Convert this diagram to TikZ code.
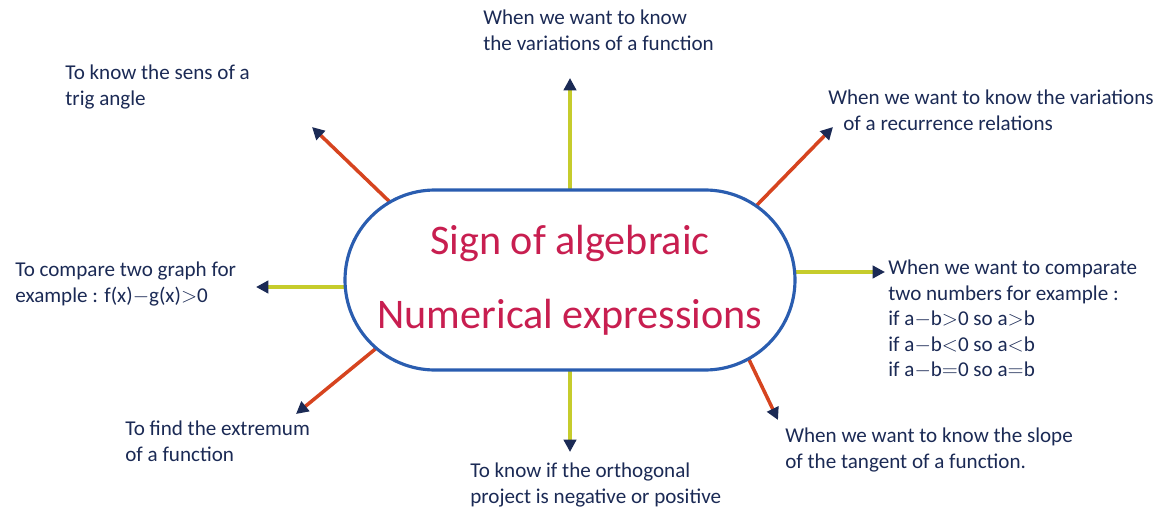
\documentclass[tikz,border=0pt]{standalone}
\usepackage{tikz}
\usetikzlibrary{arrows.meta,positioning,calc,backgrounds}
\usepackage{fontspec}
\setmainfont{Carlito}
\usepackage{xcolor}
\definecolor{inknavy}{HTML}{1B2A55}
\definecolor{blueline}{HTML}{2A5DB0}
\definecolor{titlered}{HTML}{C81E50}
\definecolor{lineyellow}{HTML}{C6CC2C}
\definecolor{linered}{HTML}{D6441F}

\begin{document}
\begin{tikzpicture}[
  note/.style={inner sep=0pt, align=left, anchor=north west, text=inknavy, font=\fontsize{12}{14.5}\selectfont},
  yarr/.style={draw=lineyellow, line width=1.8pt, -{Triangle[color=inknavy, length=7pt, width=7pt]}},
  rarr/.style={draw=linered, line width=2pt, -{Triangle[color=inknavy, length=7pt, width=7pt]}}
]
  \useasboundingbox (0,0) rectangle (23.4,-10.48);

  % central bubble
  \node[draw=blueline, line width=1.8pt, fill=white, rounded corners=1.8cm, minimum width=9cm, minimum height=3.6cm,
        align=center, text=titlered, font=\fontsize{24}{42}\selectfont] (main) at (11.4,-5.6)
        {Sign of algebraic\\Numerical expressions};

  % labels
  \node[note] (up) at (9.66,-0.2) {When we want to know\\the variations of a function};
  \node[note] (ul) at (1.3,-1.3) {To know the sens of a\\trig angle};
  \node[note] (ur) at (16.56,-1.8) {When we want to know the variations\\\hspace*{0.3cm}of a recurrence relations};
  \node[note] (lft) at (0.3,-5.24) {To compare two graph for\\example : f(x)$-$g(x)$>$0};
  \node[note] (rgt) at (17.76,-5.2) {When we want to comparate\\two numbers for example :\\if a$-$b$>$0 so a$>$b\\if a$-$b$<$0 so a$<$b\\if a$-$b$=$0 so a$=$b};
  \node[note] (ll) at (2.5,-8.42) {To find the extremum\\of a function};
  \node[note] (dn) at (9.4,-9.26) {To know if the orthogonal\\project is negative or positive};
  \node[note] (lr) at (15.7,-8.56) {When we want to know the slope\\of the tangent of a function.};

  % arrow tips
  \coordinate (tup) at (11.4,-1.56);
  \coordinate (tul) at (6.24,-2.54);
  \coordinate (tur) at (16.66,-2.54);
  \coordinate (tlft) at (5.12,-5.74);
  \coordinate (trgt) at (17.7,-5.44);
  \coordinate (tll) at (5.92,-8.28);
  \coordinate (tdn) at (11.4,-9.04);
  \coordinate (tlr) at (15.56,-8.4);

  \begin{scope}[on background layer]
    \draw[yarr] (main.center) -- (tup);
    \draw[yarr] (main.center) -- (tdn);
    \draw[yarr] ([yshift=-0.14cm]main.center) -- (tlft);
    \draw[yarr] ([yshift=0.16cm]main.center) -- (trgt);
    \draw[rarr] ([shift={(-3.0,0.98)}]main.center) -- (tul);
    \draw[rarr] ([shift={(3.4,1.15)}]main.center) -- (tur);
    \draw[rarr] ([shift={(-3.6,-1.14)}]main.center) -- (tll);
    \draw[rarr] ([shift={(3.2,-0.8)}]main.center) -- (tlr);
  \end{scope}
\end{tikzpicture}
\end{document}
